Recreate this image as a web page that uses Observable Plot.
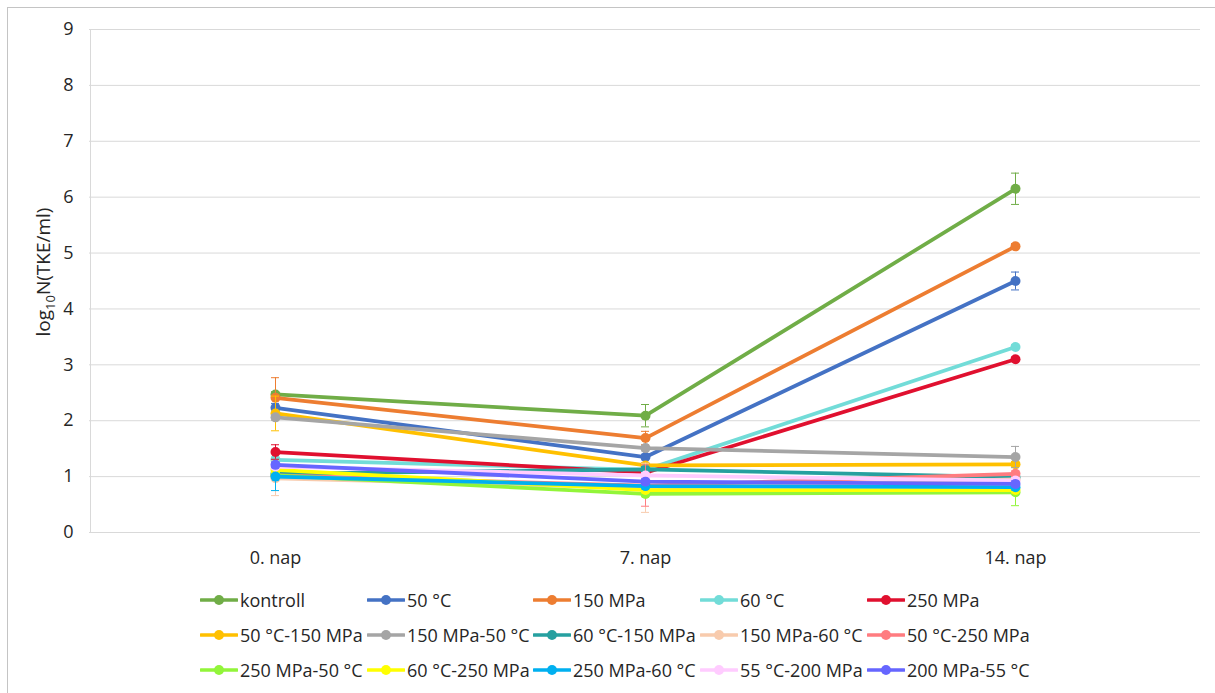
<!DOCTYPE html>
<html>
<head>
<meta charset="utf-8">
<script src="https://cdn.jsdelivr.net/npm/d3@7"></script>
<script src="https://cdn.jsdelivr.net/npm/@observablehq/plot@0.6"></script>
<style>
  html, body { margin: 0; padding: 0; background: #fff; }
  body { width: 1215px; height: 693px; position: relative; overflow: hidden; font-family: "Open Sans", sans-serif; }
  #frame { position: absolute; left: 7px; top: 7px; width: 1220px; height: 700px; border: 1px solid #c4c4c4; box-sizing: border-box; }
  #chart { position: absolute; left: 0; top: 0; }
  #legend { position: absolute; left: 0; top: 0; width: 1215px; height: 693px; pointer-events: none; }
  .item { position: absolute; display: flex; align-items: center; height: 24px; font-size: 18px; color: #262626; white-space: nowrap; }
  .item svg { margin-right: 2px; }
</style>
</head>
<body>
<div id="frame"></div>
<div id="chart"></div>
<div id="legend"></div>
<script>
// Sampling days (category axis)
const days = ["0. nap", "7. nap", "14. nap"];

// Treatments, in drawing order
const treatments = [
  "kontroll", "50 °C", "150 MPa", "60 °C", "250 MPa",
  "50 °C-150 MPa", "150 MPa-50 °C", "60 °C-150 MPa", "150 MPa-60 °C", "50 °C-250 MPa",
  "250 MPa-50 °C", "60 °C-250 MPa", "250 MPa-60 °C", "55 °C-200 MPa", "200 MPa-55 °C"
];

const colors = [
  "#70AD47", "#4472C4", "#ED7D31", "#72DCD8", "#E0102F",
  "#FFC000", "#A5A5A5", "#26A0A0", "#F8CBAD", "#FF7C80",
  "#92F53A", "#FFFF00", "#00B0F0", "#FFCCFF", "#6666FF"
];

// Mean log10 N (CFU/ml) per treatment for day 0, 7, 14
const means = [
  [2.47, 2.09, 6.15],
  [2.23, 1.35, 4.50],
  [2.41, 1.69, 5.12],
  [1.30, 1.12, 3.32],
  [1.44, 1.07, 3.10],
  [2.13, 1.20, 1.22],
  [2.06, 1.51, 1.35],
  [1.05, 1.13, 0.99],
  [0.97, 0.80, 0.95],
  [1.02, 0.84, 1.05],
  [1.02, 0.69, 0.72],
  [1.12, 0.76, 0.76],
  [1.00, 0.83, 0.81],
  [1.18, 1.02, 0.93],
  [1.21, 0.91, 0.87]
];

// Standard deviations
const errors = [
  [0.05, 0.20, 0.28],
  [0.08, 0.05, 0.16],
  [0.36, 0.12, 0.05],
  [0.05, 0.05, 0.04],
  [0.13, 0.05, 0.04],
  [0.31, 0.05, 0.05],
  [0.05, 0.05, 0.19],
  [0.05, 0.05, 0.05],
  [0.31, 0.44, 0.05],
  [0.05, 0.37, 0.05],
  [0.05, 0.05, 0.24],
  [0.05, 0.05, 0.05],
  [0.25, 0.05, 0.05],
  [0.05, 0.05, 0.05],
  [0.05, 0.05, 0.05]
];

const yTicks = [0, 1, 2, 3, 4, 5, 6, 7, 8, 9];

const rows = treatments.map((name, s) => days.map((day, d) => ({
  name, day, value: means[s][d], lo: means[s][d] - errors[s][d], hi: means[s][d] + errors[s][d]
})));

// Error bar caps: short horizontal rules centred on each category
const cap = (data, key, color) =>
  Plot.ruleY(data, {x1: "day", x2: "day", y: key, stroke: color, strokeWidth: 1, insetLeft: -4, insetRight: -4});

const seriesMarks = rows.flatMap((data, s) => [
  Plot.ruleX(data, {x: "day", y1: "lo", y2: "hi", stroke: colors[s], strokeWidth: 1}),
  cap(data, "lo", colors[s]),
  cap(data, "hi", colors[s]),
  Plot.line(data, {x: "day", y: "value", stroke: colors[s], strokeWidth: 3.75, strokeLinejoin: "round", strokeLinecap: "round"}),
  Plot.dot(data, {x: "day", y: "value", fill: colors[s], r: 5})
]);

const plot = Plot.plot({
  width: 1215,
  height: 575,
  marginLeft: 89,
  marginRight: 15,
  marginTop: 29,
  marginBottom: 43,
  style: {fontFamily: "Open Sans, sans-serif", fontSize: "18px", color: "#262626", background: "transparent"},
  x: {type: "point", domain: days, padding: 0, insetLeft: 185, insetRight: 185, label: null},
  y: {domain: [0, 9], label: null},
  marks: [
    Plot.ruleY(yTicks, {stroke: "#d9d9d9", strokeWidth: 1}),
    Plot.ruleX([days[0]], {y1: 0, y2: 9, dx: -185, stroke: "#d9d9d9", strokeWidth: 1}),
    Plot.axisY({ticks: yTicks, tickSize: 0, tickPadding: 16, label: null}),
    Plot.axisX({tickSize: 0, tickPadding: 19, label: null}),
    ...seriesMarks
  ]
});

// Rotated y axis title with a subscript base
const svg = d3.select(plot);
const title = svg.append("text")
  .attr("transform", "translate(50,272) rotate(-90)")
  .attr("text-anchor", "middle")
  .attr("fill", "#262626")
  .attr("font-size", 19);
title.append("tspan").text("log");
title.append("tspan").attr("font-size", 13).attr("dy", 5).text("10");
title.append("tspan").attr("dy", -5).text("N(TKE/ml)");

document.getElementById("chart").appendChild(plot);

// Legend: three rows of five entries below the plot
const legend = document.getElementById("legend");
const colX = [200, 367, 533, 700, 867];
const rowY = [600, 635, 670];
treatments.forEach((name, i) => {
  const item = document.createElement("div");
  item.className = "item";
  item.style.left = colX[i % 5] + "px";
  item.style.top = (rowY[Math.floor(i / 5)] - 12) + "px";
  item.innerHTML =
    `<svg width="38" height="14"><line x1="1" x2="37" y1="7" y2="7" stroke="${colors[i]}" stroke-width="3.5" stroke-linecap="round"/>` +
    `<circle cx="19" cy="7" r="5" fill="${colors[i]}"/></svg><span>${name}</span>`;
  legend.appendChild(item);
});
</script>
</body>
</html>
